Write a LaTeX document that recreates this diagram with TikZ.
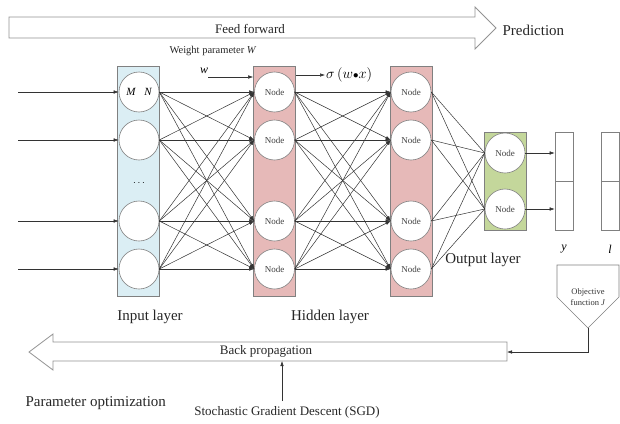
\documentclass[tikz,border=0pt]{standalone}
\usepackage{fontspec}
\setmainfont{Liberation Serif}
\usetikzlibrary{arrows.meta}

\definecolor{inputblue}{RGB}{219,238,244}
\definecolor{hiddenpink}{RGB}{230,185,184}
\definecolor{outputgreen}{RGB}{196,215,155}

\tikzset{
  layerbox/.style={draw=gray, line width=0.6pt, minimum width=42pt, inner sep=0pt},
  neuron/.style={circle, draw=gray, fill=white, line width=0.6pt, minimum size=40pt,
    inner sep=0pt, font=\fontsize{9}{10}\selectfont, text=black!75},
  vecbox/.style={draw=gray, line width=0.6pt, minimum width=18pt, minimum height=49pt, inner sep=0pt},
  link/.style={draw=black!80, line width=0.5pt},
  bigarrow/.style={draw=gray!85, line width=0.8pt, fill=white},
  caption/.style={font=\fontsize{15}{17}\selectfont, text=black!85},
  note/.style={font=\fontsize{13}{15}\selectfont, text=black!85},
}

\begin{document}
\begin{tikzpicture}[x=1pt, y=-1pt, >={Latex[length=5pt,width=3.5pt]}]
    \useasboundingbox (0,0) rectangle (620,423);

    % feed forward arrow along the top
    \draw[bigarrow] (9,17) -- (475,17) -- (475,7) -- (496,28) -- (475,49) -- (475,38) -- (9,38) -- cycle;
    \node[note] (ff) at (250,29) {Feed forward};
    \node[caption, anchor=west] (pred) at (499,30) {Prediction};
    \node[font=\fontsize{10.5}{12}\selectfont, text=black!85] (wpar) at (213,51) {Weight parameter \textit{W}};

    % layer backgrounds
    \node[layerbox, fill=inputblue, minimum height=230pt] (boxIn) at (138.5,181) {};
    \node[layerbox, fill=hiddenpink, minimum height=230pt] (boxA) at (274.5,181) {};
    \node[layerbox, fill=hiddenpink, minimum height=230pt] (boxB) at (411,181) {};
    \node[layerbox, fill=outputgreen, minimum height=98pt] (boxOut) at (505,181) {};

    % neurons
    \foreach \y [count=\i] in {92,140,221,269} {
        \coordinate (src\i) at (18,\y);
        \node[neuron] (in\i) at (139,\y) {};
        \node[neuron] (hA\i) at (274.5,\y) {Node};
        \node[neuron] (hB\i) at (411,\y) {Node};
    }
    \node[font=\fontsize{11}{12}\selectfont\itshape] at (in1) {M\hspace{9pt}N};
    \node (dots) at (139,183) {$\cdots$};
    \node[neuron] (out1) at (505,153) {Node};
    \node[neuron] (out2) at (505,209) {Node};

    % connections between layers
    \foreach \i in {1,...,4} {
        \draw[link,->] (src\i) -- (in\i.west);
        \foreach \j in {1,...,4} {
            \draw[link,->] (in\i.east) -- (hA\j.west);
            \draw[link,->] (hA\i.east) -- (hB\j.west);
        }
        \draw[link] (hB\i.east) -- (out1.west);
        \draw[link] (hB\i.east) -- (out2.west);
    }

    % weight and activation
    \node[font=\fontsize{12}{13}\selectfont\itshape] (w) at (204,71) {w};
    \coordinate (wIn) at (208,77);
    \draw[link,->] (wIn) -- (wIn -| boxA.west);
    \node[font=\fontsize{15}{16}\selectfont, anchor=west, inner sep=1pt] (sig) at (325,75) {$\sigma\,(w{\scriptstyle\bullet}x)$};
    \draw[link,->] (sig.west -| boxA.east) -- (sig.west);

    % prediction and label vectors
    \node[vecbox] (yTop) at (564,156.5) {};
    \node[vecbox] (yBot) at (564,205.5) {};
    \node[vecbox] (lTop) at (610,156.5) {};
    \node[vecbox] (lBot) at (610,205.5) {};
    \draw[link,->] (out1.east) -- (out1.east -| yTop.west);
    \draw[link,->] (out2.east) -- (out2.east -| yBot.west);
    \node[font=\fontsize{12}{13}\selectfont\itshape] (ylab) at (564,249) {y};
    \node[font=\fontsize{12}{13}\selectfont\itshape] (llab) at (610,249) {l};

    % layer names
    \node[caption] (inName) at (150,317) {Input layer};
    \node[caption] (hidName) at (330,317) {Hidden layer};
    \node[caption] (outName) at (483,260) {Output layer};

    % objective function
    \draw[draw=gray, line width=0.6pt, fill=white] (557,265) -- (619,265) -- (619,297) -- (588,328) -- (557,297) -- cycle;
    \node[font=\fontsize{8.5}{11}\selectfont, align=center, text=black!80] (obj) at (588,297) {Objective\\function \textit{J}};
    \coordinate (objTip) at (588,328);

    % back propagation arrow along the bottom
    \draw[bigarrow] (507,342) -- (53,342) -- (53,334) -- (29,352) -- (53,370) -- (53,361) -- (507,361) -- cycle;
    \coordinate (bpEnd) at (507,352);
    \coordinate (bpFoot) at (282,361);
    \node[note] (bp) at (266,351) {Back propagation};
    \draw[link,->] (objTip) |- (bpEnd);

    \node[caption, anchor=west] (popt) at (22,403) {Parameter optimization};
    \node[note] (sgd) at (287,412) {Stochastic Gradient Descent (SGD)};
    \coordinate (sgdTop) at (282,401);
    \draw[link,->] (sgdTop) -- (bpFoot);
\end{tikzpicture}
\end{document}
